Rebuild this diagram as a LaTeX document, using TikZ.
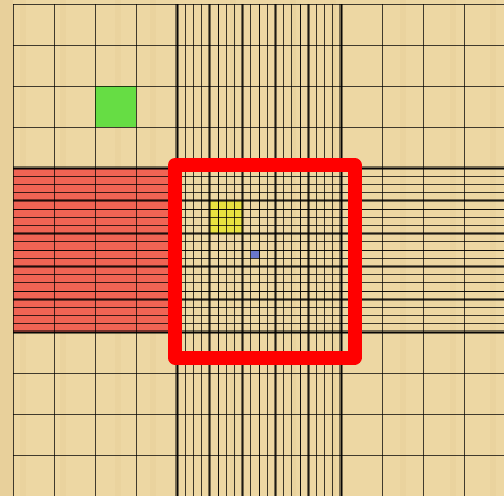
\documentclass[tikz,border=0pt]{standalone}
\begin{document}
\begin{tikzpicture}[x=1pt,y=-1pt,
  coarse/.style={black,opacity=0.72,line width=0.9pt},
  fine/.style={black,opacity=0.75,line width=0.85pt},
  heavy/.style={black,opacity=0.5,line width=3.2pt},
  frame/.style={red,line width=14pt,line join=round}]
\definecolor{parch}{RGB}{237,215,163}
\definecolor{parchdark}{RGB}{228,203,148}
\definecolor{redfill}{RGB}{240,100,84}
\definecolor{greenfill}{RGB}{102,221,68}
\definecolor{yellowfill}{RGB}{232,226,64}
\definecolor{bluefill}{RGB}{106,119,204}
\useasboundingbox (0,0) rectangle (504,496);
% background
\fill[parch] (0,0) rectangle (504,496);
\foreach \sx in {20,60,115,150,230,290,330,400,450,490} {
  \fill[parchdark,opacity=0.3] (\sx,0) rectangle ++(6,496);
}
\fill[parchdark,opacity=0.5] (0,0) rectangle (13,496);
% fills
\fill[redfill] (13,168) rectangle (177,332);
\fill[greenfill] (95,86) rectangle (136,127);
\fill[yellowfill] (209.8,200.8) rectangle (242.6,233.6);
\fill[bluefill] (250.8,250) rectangle (259,258.2);
% coarse grid
\foreach \k in {0,...,11} {
  \draw[coarse] ({13+41*\k},4) -- ({13+41*\k},496);
  \draw[coarse] (13,{4+41*\k}) -- (504,{4+41*\k});
}
% vertical band
\foreach \k in {0,...,20} {
  \draw[fine] ({177+8.2*\k},4) -- ({177+8.2*\k},496);
}
\foreach \k in {0,...,5} {
  \draw[heavy] ({177+32.8*\k},4) -- ({177+32.8*\k},496);
}
% horizontal band
\foreach \k in {0,...,20} {
  \draw[fine] (13,{168+8.2*\k}) -- (504,{168+8.2*\k});
}
\foreach \k in {0,...,5} {
  \draw[heavy] (13,{168+32.8*\k}) -- (504,{168+32.8*\k});
}
% red frame
\draw[frame] (175,165) rectangle (354.5,357.5);
\end{tikzpicture}
\end{document}
